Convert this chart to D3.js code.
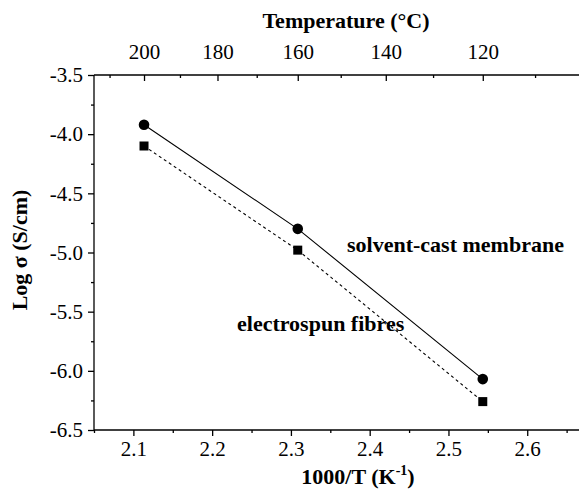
<!DOCTYPE html>
<html>
<head>
<meta charset="utf-8">
<script src="https://cdn.jsdelivr.net/npm/d3@7"></script>
<style>
	body { margin: 0; background: #fff; }
	svg { display: block; }
	svg text { font-family: "Liberation Serif", "Times New Roman", Times, serif; }
</style>
</head>
<body>
<div id="chart"></div>
<script>
// temperatures (°C) where the measurements were taken
var temps = [200, 160, 120];
var castLogSigma = [-3.92, -4.80, -6.07];
var spunLogSigma = [-4.10, -4.98, -6.26];

var yTicks = [-3.5, -4.0, -4.5, -5.0, -5.5, -6.0, -6.5];
var xTicks = [2.1, 2.2, 2.3, 2.4, 2.5, 2.6];
var tempTicks = [200, 180, 160, 140, 120];
var tempMinor = [210, 190, 170, 150, 130, 110];

function invT(t){ return 1000 / (t + 273.15); }
function fmt1(d){ return d.toFixed(1); } // plain hyphen minus like the original

var w = 579, h = 491;
var margin = {top: 75, left: 94, bottom: 61},
    width = 512, // plot runs past the right edge of the picture
    height = h - margin.top - margin.bottom;

var svg = d3.select("#chart").append("svg").attr("width", w).attr("height", h),
    g = svg.append("g").attr("transform", "translate(" + margin.left + "," + margin.top + ")");

var x = d3.scaleLinear().domain([2.05, 2.7]).range([0, width]),
    y = d3.scaleLinear().domain([-6.5, -3.5]).range([height, 0]);

function styleAxis(a){
	a.attr("font-family", null).attr("font-size", 21);
	a.selectAll(".tick text").attr("fill", "#000");
	a.selectAll(".tick line").attr("stroke", "#000").attr("stroke-width", 1.3);
	a.select(".domain").attr("stroke", "#000").attr("stroke-width", 1.3);
}

// minor ticks first
var xMinor = d3.range(2.05, 2.7, 0.1).map(function(d){ return +d.toFixed(2); });
g.append("g")
  .attr("transform", "translate(0," + height + ")")
  .call(d3.axisBottom(x).tickValues(xMinor).tickSize(3).tickFormat(""))
  .call(styleAxis)
  .select(".domain").remove();

var yMinor = d3.range(-6.25, -3.5, 0.5).map(function(d){ return +d.toFixed(2); });
g.append("g")
  .call(d3.axisLeft(y).tickValues(yMinor).tickSize(3).tickFormat(""))
  .call(styleAxis)
  .select(".domain").remove();

g.append("g")
  .call(d3.axisTop(x).tickValues(tempMinor.map(invT)).tickSize(-3).tickFormat(""))
  .call(styleAxis)
  .select(".domain").remove();

// major axes
g.append("g")
  .attr("class", "axis axis--x")
  .attr("transform", "translate(0," + height + ")")
  .call(d3.axisBottom(x).tickValues(xTicks).tickSize(6).tickPadding(5).tickFormat(fmt1))
  .call(function(a){ a.select(".domain").attr("d", "M0,0H" + width); })
  .call(styleAxis);

g.append("g")
  .attr("class", "axis axis--y")
  .call(d3.axisLeft(y).tickValues(yTicks).tickSize(6).tickPadding(5).tickFormat(fmt1))
  .call(function(a){ a.select(".domain").attr("d", "M0," + height + "V0"); })
  .call(styleAxis);

var topAxis = g.append("g")
  .attr("class", "axis axis--top")
  .call(d3.axisTop(x).tickValues(tempTicks.map(invT)).tickSize(-6)
    .tickFormat(function(d, i){ return tempTicks[i]; }))
  .call(function(a){ a.select(".domain").attr("d", "M0,0H" + width); })
  .call(styleAxis);
topAxis.selectAll(".tick text").attr("y", -16).attr("dy", "0");

// series
var line = d3.line()
  .x(function(d){ return x(invT(d.t)); })
  .y(function(d){ return y(d.v); });

var cast = temps.map(function(t, i){ return {t: t, v: castLogSigma[i]}; });
var spun = temps.map(function(t, i){ return {t: t, v: spunLogSigma[i]}; });

g.append("path")
  .datum(cast)
  .attr("fill", "none")
  .attr("stroke", "#000")
  .attr("stroke-width", 1.1)
  .attr("d", line);

g.append("path")
  .datum(spun)
  .attr("fill", "none")
  .attr("stroke", "#000")
  .attr("stroke-width", 1.1)
  .attr("stroke-dasharray", "3,3")
  .attr("d", line);

g.selectAll(".dot")
  .data(cast)
  .enter().append("circle")
  .attr("cx", function(d){ return x(invT(d.t)); })
  .attr("cy", function(d){ return y(d.v); })
  .attr("r", 5.3)
  .attr("fill", "#000");

g.selectAll(".sq")
  .data(spun)
  .enter().append("rect")
  .attr("x", function(d){ return x(invT(d.t)) - 4.5; })
  .attr("y", function(d){ return y(d.v) - 4.5; })
  .attr("width", 9)
  .attr("height", 9)
  .attr("fill", "#000");

// labels
function title(sel){
	return sel.attr("font-weight", "bold").attr("font-size", 22).attr("fill", "#000");
}

svg.append("text").call(title)
  .attr("x", 346).attr("y", 28).attr("text-anchor", "middle")
  .text("Temperature (°C)");

var xl = svg.append("text").call(title)
  .attr("x", 358).attr("y", 484).attr("text-anchor", "middle");
xl.append("tspan").text("1000/T (K");
xl.append("tspan").attr("dy", -9).attr("font-size", 14).text("-1");
xl.append("tspan").attr("dy", 9).text(")");

svg.append("text").call(title)
  .attr("transform", "translate(27,250) rotate(-90)")
  .attr("text-anchor", "middle")
  .text("Log σ (S/cm)");

svg.append("text").call(title)
  .attr("x", 347).attr("y", 252)
  .text("solvent-cast membrane");

svg.append("text").call(title)
  .attr("x", 237).attr("y", 331)
  .text("electrospun fibres");
</script>
</body>
</html>
